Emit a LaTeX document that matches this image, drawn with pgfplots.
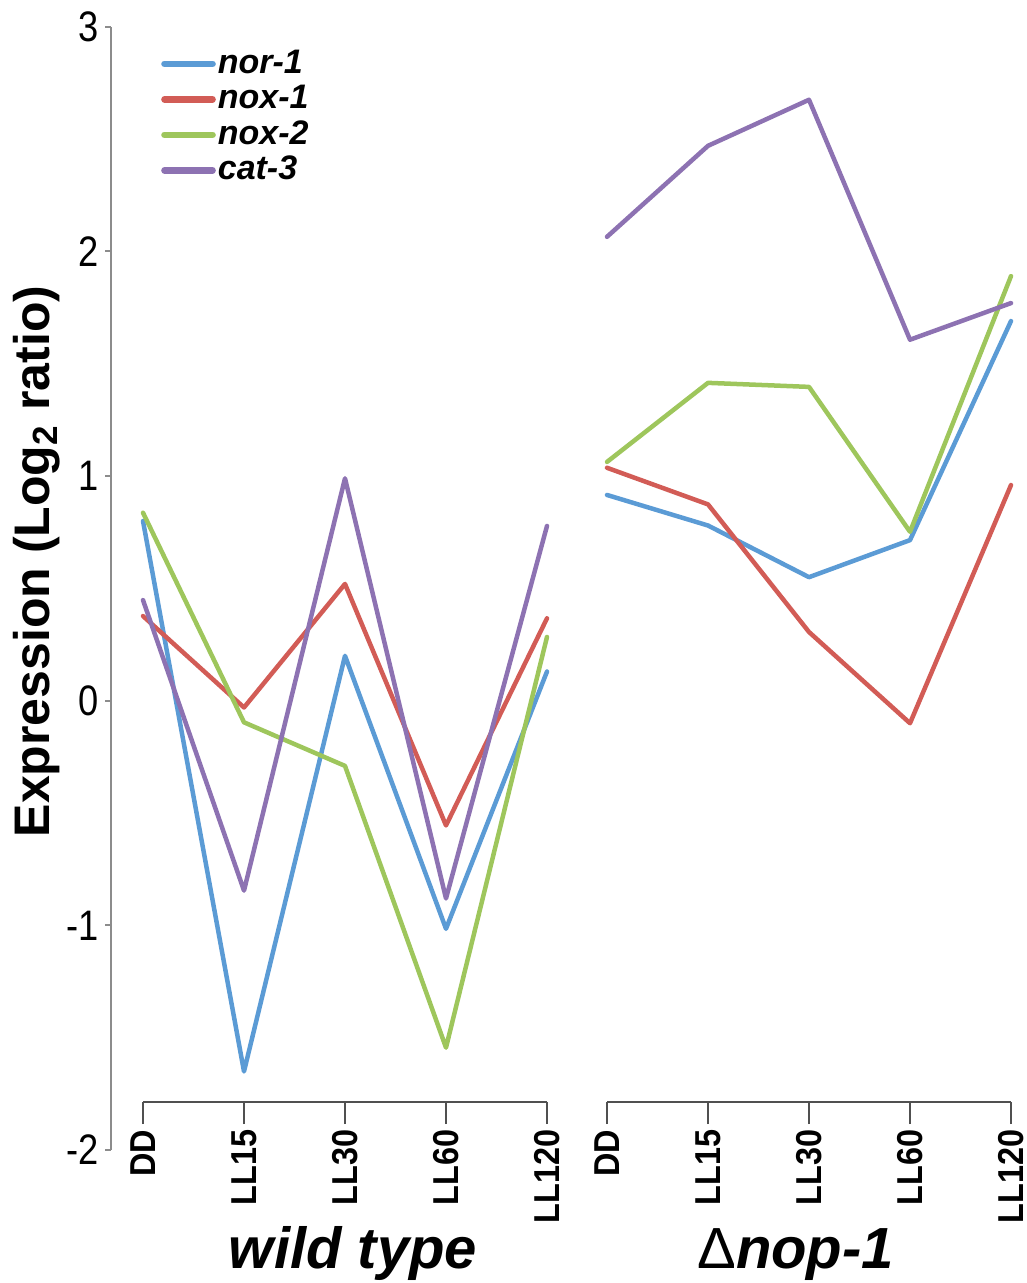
\documentclass[border=0pt]{standalone}
\usepackage{fontspec}
\setmainfont{Liberation Sans}
\newfontfamily\narrow[FakeStretch=0.85]{Liberation Sans}
\newfontfamily\narrowb[FakeStretch=0.9]{Liberation Sans}
\usepackage{pgfplots}
\pgfplotsset{compat=1.18}
\definecolor{cnor}{RGB}{91,155,213}
\definecolor{cnoxa}{RGB}{210,92,86}
\definecolor{cnoxb}{RGB}{158,198,92}
\definecolor{ccat}{RGB}{141,114,178}
\definecolor{yaxcol}{RGB}{140,140,140}
\definecolor{xaxcol}{RGB}{80,80,80}

\pgfplotsset{
  panel/.style={
    scale only axis, x=30.3pt, y=67.4pt,
    xmin=0, xmax=4, ymin=-1.786, ymax=3,
    axis x line*=bottom, axis y line=none,
    axis line style={xaxcol, line width=0.6pt},
    xtick={0,...,4}, xticklabels={DD,LL15,LL30,LL60,LL120},
    tick align=outside, major tick length=6.6pt,
    xtick style={xaxcol, line width=0.6pt},
    xticklabel style={rotate=90, anchor=east, inner xsep=1.5pt, inner ysep=0pt,
      font=\narrowb\bfseries\fontsize{10.8}{12}\selectfont},
    xlabel style={at={(axis description cs:0.5,0)}, anchor=base,
      yshift=-49.8pt, font=\fontsize{17.4}{20}\selectfont},
    clip=false,
    every axis plot/.append style={line width=1.35pt, line join=round, line cap=round},
  },
}

\begin{document}
\begin{tikzpicture}
\useasboundingbox (0,0) rectangle (307.8pt,-384.9pt);

% y axis only
\begin{axis}[
  at={(33.3pt,-345pt)}, anchor=south west,
  scale only axis, x=1pt, y=67.4pt,
  xmin=0, xmax=1, ymin=-2, ymax=3,
  axis x line=none, axis y line*=left,
  axis line style={yaxcol, line width=0.6pt},
  ytick={-2,...,3}, yticklabels={-2,-1,0,1,2,3},
  tick align=outside, major tick length=1.8pt,
  ytick style={yaxcol, line width=0.6pt},
  yticklabel style={font=\narrow\fontsize{12.8}{14}\selectfont, inner sep=1pt, xshift=-0.8pt},
  ylabel={\bfseries Expression (Log\textsubscript{2} ratio)},
  ylabel style={at={(axis description cs:-22.2,0.524)}, anchor=center,
    font=\fontsize{15}{18}\selectfont},
]
\end{axis}

% wild type
\begin{axis}[panel,
  at={(42.9pt,-330.6pt)}, anchor=south west,
  xlabel={\bfseries\itshape wild type},
  xlabel style={xshift=2.4pt},
  legend style={at={(axis description cs:0.045,0.982)}, anchor=north west,
    draw=none, fill=none, inner sep=0pt, outer sep=0pt,
    font=\bfseries\itshape\fontsize{10.2}{10}\selectfont,
    nodes={inner xsep=0.6pt, inner ysep=0pt, text height=8.15pt, text depth=2.5pt}},
  legend cell align=left,
  legend image code/.code={\draw[#1, line width=2pt, line cap=round] (0pt,0pt) -- (14.4pt,0pt);},
]
\addplot[cnor] coordinates {(0,0.80) (1,-1.65) (2,0.20) (3,-1.015) (4,0.13)};
\addplot[cnoxa] coordinates {(0,0.377) (1,-0.03) (2,0.52) (3,-0.555) (4,0.367)};
\addplot[cnoxb] coordinates {(0,0.837) (1,-0.096) (2,-0.29) (3,-1.544) (4,0.284)};
\addplot[ccat] coordinates {(0,0.448) (1,-0.845) (2,0.99) (3,-0.88) (4,0.778)};
\legend{nor-1,nox-1,nox-2,cat-3}
\end{axis}

% delta nop-1
\begin{axis}[panel,
  at={(182.1pt,-330.6pt)}, anchor=south west,
  xlabel={{\mdseries\upshape Δ}\bfseries\itshape nop-1},
  xlabel style={xshift=-4pt},
]
\addplot[cnor] coordinates {(0,0.916) (1,0.78) (2,0.55) (3,0.715) (4,1.69)};
\addplot[cnoxa] coordinates {(0,1.037) (1,0.874) (2,0.306) (3,-0.10) (4,0.96)};
\addplot[cnoxb] coordinates {(0,1.063) (1,1.415) (2,1.397) (3,0.752) (4,1.89)};
\addplot[ccat] coordinates {(0,2.065) (1,2.47) (2,2.675) (3,1.607) (4,1.77)};
\end{axis}
\end{tikzpicture}
\end{document}
